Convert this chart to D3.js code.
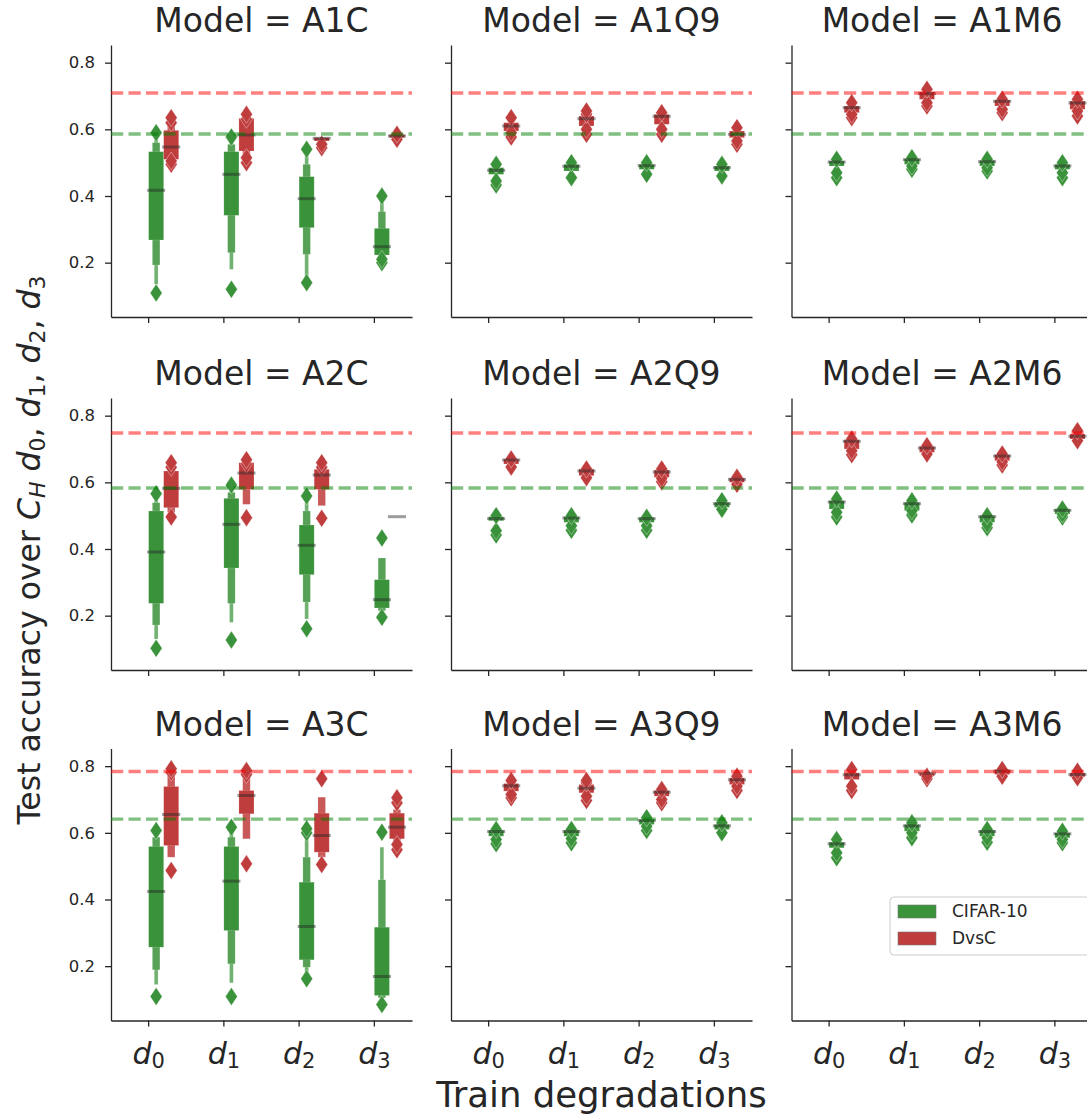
<!DOCTYPE html>
<html>
<head>
<meta charset="utf-8">
<script src="https://cdn.jsdelivr.net/npm/d3@7/dist/d3.min.js"></script>
<style>
  body { margin: 0; background: #fff; }
  svg { display: block; font-family: "DejaVu Sans", sans-serif; }
</style>
</head>
<body>
<svg id="chart" width="1087" height="1116"></svg>
<script>
// facets and categories
const models = ["A1C", "A1Q9", "A1M6", "A2C", "A2Q9", "A2M6", "A3C", "A3Q9", "A3M6"];
const degradations = ["0", "1", "2", "3"];
const hueSlots = ["", " ", "CIFAR-10", "DvsC"];
const yTicks = [0.2, 0.4, 0.6, 0.8];

// reference accuracies per row (dashed lines)
const refCifar = [0.586, 0.583, 0.641];
const refDvsC = [0.709, 0.748, 0.784];

// medians, [model][degradation]
const cifarMedian = [
  [0.417, 0.465, 0.392, 0.248],
  [0.477, 0.489, 0.491, 0.485],
  [0.502, 0.509, 0.503, 0.490],
  [0.391, 0.474, 0.411, 0.248],
  [0.491, 0.493, 0.491, 0.536],
  [0.541, 0.536, 0.497, 0.516],
  [0.424, 0.455, 0.319, 0.169],
  [0.604, 0.604, 0.637, 0.621],
  [0.567, 0.621, 0.604, 0.597]
];
const dvscMedian = [
  [0.547, 0.583, 0.573, 0.580],
  [0.610, 0.632, 0.639, 0.585],
  [0.665, 0.707, 0.684, 0.679],
  [0.582, 0.628, 0.622, 0.497],
  [0.667, 0.634, 0.631, 0.609],
  [0.723, 0.703, 0.679, 0.738],
  [0.655, 0.712, 0.592, 0.617],
  [0.741, 0.734, 0.722, 0.759],
  [0.774, 0.779, 0.785, 0.775]
];

// letter-value boxes, innermost first: [low, high]
const cifarBoxes = [
  [[[0.268, 0.533], [0.193, 0.560], [0.135, 0.575]], [[0.342, 0.533], [0.230, 0.555], [0.180, 0.570]],
   [[0.305, 0.458], [0.225, 0.495], [0.150, 0.520]], [[0.223, 0.303], [0.215, 0.353], [0.210, 0.380]]],
  [[[0.465, 0.485]], [[0.475, 0.495]], [[0.480, 0.495]], [[0.475, 0.490]]],
  [[[0.490, 0.505]], [[0.495, 0.512]], [[0.490, 0.507]], [[0.480, 0.495]]],
  [[[0.237, 0.514], [0.172, 0.539], [0.130, 0.555]], [[0.343, 0.552], [0.237, 0.570], [0.180, 0.580]],
   [[0.323, 0.472], [0.241, 0.514], [0.190, 0.540]], [[0.223, 0.308], [0.215, 0.373]]],
  [[[0.485, 0.497]], [[0.480, 0.497]], [[0.480, 0.495]], [[0.525, 0.540]]],
  [[[0.520, 0.545]], [[0.515, 0.540]], [[0.480, 0.500]], [[0.505, 0.520]]],
  [[[0.257, 0.559], [0.189, 0.587], [0.145, 0.597]], [[0.307, 0.559], [0.207, 0.587], [0.150, 0.600]],
   [[0.219, 0.452], [0.197, 0.527], [0.180, 0.580]], [[0.112, 0.317], [0.105, 0.459], [0.100, 0.557]]],
  [[[0.590, 0.608]], [[0.590, 0.608]], [[0.625, 0.640]], [[0.610, 0.625]]],
  [[[0.555, 0.572]], [[0.605, 0.625]], [[0.590, 0.608]], [[0.585, 0.600]]]
];
const dvscBoxes = [
  [[[0.510, 0.597], [0.505, 0.610]], [[0.535, 0.633], [0.520, 0.640]], [[0.565, 0.575]], [[0.575, 0.585]]],
  [[[0.595, 0.620]], [[0.610, 0.640]], [[0.615, 0.645]], [[0.575, 0.595]]],
  [[[0.650, 0.670]], [[0.690, 0.712]], [[0.670, 0.688]], [[0.660, 0.685]]],
  [[[0.524, 0.634], [0.510, 0.645]], [[0.579, 0.659], [0.534, 0.665]], [[0.579, 0.639], [0.530, 0.645]], []],
  [[[0.655, 0.670]], [[0.620, 0.640]], [[0.615, 0.637]], [[0.600, 0.613]]],
  [[[0.700, 0.728]], [[0.690, 0.708]], [[0.665, 0.683]], [[0.730, 0.745]]],
  [[[0.562, 0.739], [0.527, 0.777]], [[0.657, 0.727], [0.582, 0.767]], [[0.542, 0.659], [0.527, 0.707]], [[0.582, 0.659], [0.570, 0.670]]],
  [[[0.725, 0.748]], [[0.720, 0.745]], [[0.710, 0.727]], [[0.745, 0.765]]],
  [[[0.760, 0.780]], [[0.770, 0.779]], [[0.775, 0.790]], [[0.768, 0.780]]]
];

// outlier points drawn as diamonds
const cifarOutliers = [
  [[0.109, 0.590], [0.120, 0.577], [0.140, 0.540], [0.200, 0.210, 0.400]],
  [[0.433, 0.445, 0.495], [0.455, 0.500], [0.465, 0.500], [0.460, 0.495]],
  [[0.455, 0.470, 0.510], [0.480, 0.490, 0.515], [0.475, 0.485, 0.510], [0.455, 0.470, 0.500]],
  [[0.102, 0.566], [0.127, 0.592], [0.161, 0.559], [0.195, 0.433]],
  [[0.442, 0.455, 0.500], [0.456, 0.470, 0.500], [0.456, 0.470, 0.495], [0.519, 0.545]],
  [[0.496, 0.510, 0.550], [0.502, 0.515, 0.545], [0.464, 0.475, 0.500], [0.496, 0.505, 0.520]],
  [[0.109, 0.607], [0.109, 0.617], [0.162, 0.600, 0.612], [0.085, 0.602]],
  [[0.567, 0.580, 0.610], [0.570, 0.583, 0.610], [0.607, 0.620, 0.645], [0.600, 0.630]],
  [[0.525, 0.540, 0.580], [0.585, 0.600, 0.630], [0.572, 0.585, 0.610], [0.570, 0.580, 0.605]]
];
const dvscOutliers = [
  [[0.495, 0.505, 0.620, 0.635], [0.500, 0.515, 0.630, 0.645], [0.545, 0.555], [0.570, 0.585]],
  [[0.577, 0.590, 0.635], [0.585, 0.600, 0.645, 0.655], [0.585, 0.600, 0.650], [0.555, 0.565, 0.605]],
  [[0.635, 0.645, 0.680], [0.670, 0.680, 0.720], [0.650, 0.660, 0.690], [0.640, 0.655, 0.690]],
  [[0.496, 0.645, 0.659], [0.494, 0.655, 0.668], [0.492, 0.645, 0.659], []],
  [[0.646, 0.670], [0.614, 0.640], [0.602, 0.612, 0.640], [0.594, 0.615]],
  [[0.683, 0.695, 0.730], [0.685, 0.710], [0.652, 0.662, 0.685], [0.725, 0.755]],
  [[0.487, 0.782, 0.792], [0.507, 0.775, 0.787], [0.505, 0.762], [0.549, 0.565, 0.690, 0.705]],
  [[0.705, 0.715, 0.757], [0.697, 0.710, 0.750, 0.757], [0.690, 0.700, 0.730], [0.727, 0.740, 0.770]],
  [[0.727, 0.740, 0.790], [0.762, 0.770], [0.770, 0.790], [0.765, 0.785]]
];

const hueColor = { "CIFAR-10": "#3a923a", "DvsC": "#c03d3e" };
const ink = "#262626";

var svg = d3.select("#chart");

var W = 301, H = 272;
var colLeft = [111, 451, 791.5];
var rowTop = [45, 398, 748.5];

var x = d3.scaleBand().domain(degradations).range([0, W]);
var hx = d3.scaleBand().domain(hueSlots).range([x.bandwidth() * 0.1, x.bandwidth() * 0.9]);
var y = d3.scaleLinear().domain([0.037, 0.853]).range([H, 0]);

function diamond(cx, cy) {
  var w = 6, h = 9;
  return "M" + cx + "," + (cy - h) + "L" + (cx + w) + "," + cy +
    "L" + cx + "," + (cy + h) + "L" + (cx - w) + "," + cy + "Z";
}

function drawGroup(g, hue, deg, median, boxes, outliers) {
  var bw = hx.bandwidth();
  var cx = x(deg) + hx(hue) + bw / 2;
  var base = hueColor[hue];

  // outer boxes first so the inner (widest, darkest) one sits on top
  boxes.slice().reverse().forEach(function(b, k) {
    var level = boxes.length - 1 - k;
    var w = bw / Math.pow(2, level);
    g.append("rect")
      .attr("x", cx - w / 2)
      .attr("y", y(b[1]))
      .attr("width", w)
      .attr("height", Math.max(1, y(b[0]) - y(b[1])))
      .attr("fill", d3.interpolateRgb(base, "#fff")(level * 0.14))
      .attr("stroke", "#fff")
      .attr("stroke-opacity", 0.25)
      .attr("stroke-width", 0.6);
  });

  g.selectAll(null)
    .data(outliers)
    .enter()
    .append("path")
    .attr("d", function(v) { return diamond(cx, y(v)); })
    .attr("fill", base)
    .attr("stroke", "#fff")
    .attr("stroke-opacity", 0.45)
    .attr("stroke-width", 0.8);

  g.append("line")
    .attr("x1", cx - bw / 2 - 1.5)
    .attr("x2", cx + bw / 2 + 1.5)
    .attr("y1", y(median))
    .attr("y2", y(median))
    .attr("stroke", ink)
    .attr("stroke-opacity", 0.45)
    .attr("stroke-width", 3);
}

models.forEach(function(model, i) {
  var row = Math.floor(i / 3), col = i % 3;
  var g = svg.append("g")
    .attr("transform", "translate(" + colLeft[col] + "," + rowTop[row] + ")");

  var yAxis = d3.axisLeft(y)
    .tickValues(yTicks)
    .tickSize(6)
    .tickSizeOuter(0)
    .tickPadding(10)
    .tickFormat(col === 0 ? d3.format(".1f") : "");
  var gy = g.append("g").call(yAxis);

  var xAxis = d3.axisBottom(x)
    .tickSize(6)
    .tickSizeOuter(0)
    .tickFormat("");
  var gx = g.append("g").attr("transform", "translate(0," + H + ")").call(xAxis);

  [gx, gy].forEach(function(a) {
    a.select(".domain").attr("stroke", ink).attr("stroke-width", 1.3);
    a.selectAll(".tick line").attr("stroke", ink).attr("stroke-width", 1.3);
    a.selectAll(".tick text")
      .attr("fill", ink)
      .style("font-size", "16.5px")
      .style("font-family", "DejaVu Sans");
  });

  degradations.forEach(function(deg, j) {
    drawGroup(g, "CIFAR-10", deg, cifarMedian[i][j], cifarBoxes[i][j], cifarOutliers[i][j]);
    drawGroup(g, "DvsC", deg, dvscMedian[i][j], dvscBoxes[i][j], dvscOutliers[i][j]);
  });

  // reference lines
  [[refDvsC[row], "red"], [refCifar[row], "green"]].forEach(function(r) {
    g.append("line")
      .attr("x1", 0)
      .attr("x2", W)
      .attr("y1", y(r[0]))
      .attr("y2", y(r[0]))
      .attr("stroke", r[1])
      .attr("stroke-opacity", 0.5)
      .attr("stroke-width", 3.3)
      .attr("stroke-dasharray", "12.2,5.3");
  });

  g.append("text")
    .attr("x", W / 2)
    .attr("y", -13)
    .attr("text-anchor", "middle")
    .attr("fill", ink)
    .style("font-size", "33px")
    .text("Model = " + model);

  if (row === 2) {
    degradations.forEach(function(deg) {
      var t = g.append("text")
        .attr("x", x(deg) + x.bandwidth() / 2)
        .attr("y", H + 43)
        .attr("text-anchor", "middle")
        .attr("fill", ink)
        .style("font-size", "30px");
      t.append("tspan").style("font-style", "italic").text("d");
      t.append("tspan").attr("dy", 4).style("font-size", "21px").text(deg);
    });
  }
});

// legend in the last facet
var lg = svg.append("g").attr("transform", "translate(890,897)");
lg.append("rect")
  .attr("width", 200).attr("height", 58)
  .attr("rx", 4)
  .attr("fill", "#fff").attr("fill-opacity", 0.8)
  .attr("stroke", "#cccccc");
hueSlots.slice(2).forEach(function(h, k) {
  lg.append("rect")
    .attr("x", 8).attr("y", 8 + k * 27)
    .attr("width", 38).attr("height", 13)
    .attr("fill", hueColor[h])
    .attr("stroke", "#777").attr("stroke-width", 0.6);
  lg.append("text")
    .attr("x", 62).attr("y", 20 + k * 27)
    .attr("fill", ink)
    .style("font-size", "17px")
    .text(h);
});

// axis titles
svg.append("text")
  .attr("x", 601.5)
  .attr("y", 1107)
  .attr("text-anchor", "middle")
  .attr("fill", ink)
  .style("font-size", "35.5px")
  .text("Train degradations");

var yl = svg.append("text")
  .attr("transform", "translate(40,550) rotate(-90)")
  .attr("text-anchor", "middle")
  .attr("fill", ink)
  .style("font-size", "31.5px");
yl.append("tspan").text("Test accuracy over ");
yl.append("tspan").style("font-style", "italic").text("C");
yl.append("tspan").attr("dy", 5).style("font-style", "italic").style("font-size", "22px").text("H");
yl.append("tspan").attr("dy", -5).text(" ");
degradations.forEach(function(deg, k) {
  yl.append("tspan").style("font-style", "italic").text("d");
  yl.append("tspan").attr("dy", 5).style("font-size", "22px").text(deg);
  yl.append("tspan").attr("dy", -5).text(k < degradations.length - 1 ? ", " : "");
});
</script>
</body>
</html>
